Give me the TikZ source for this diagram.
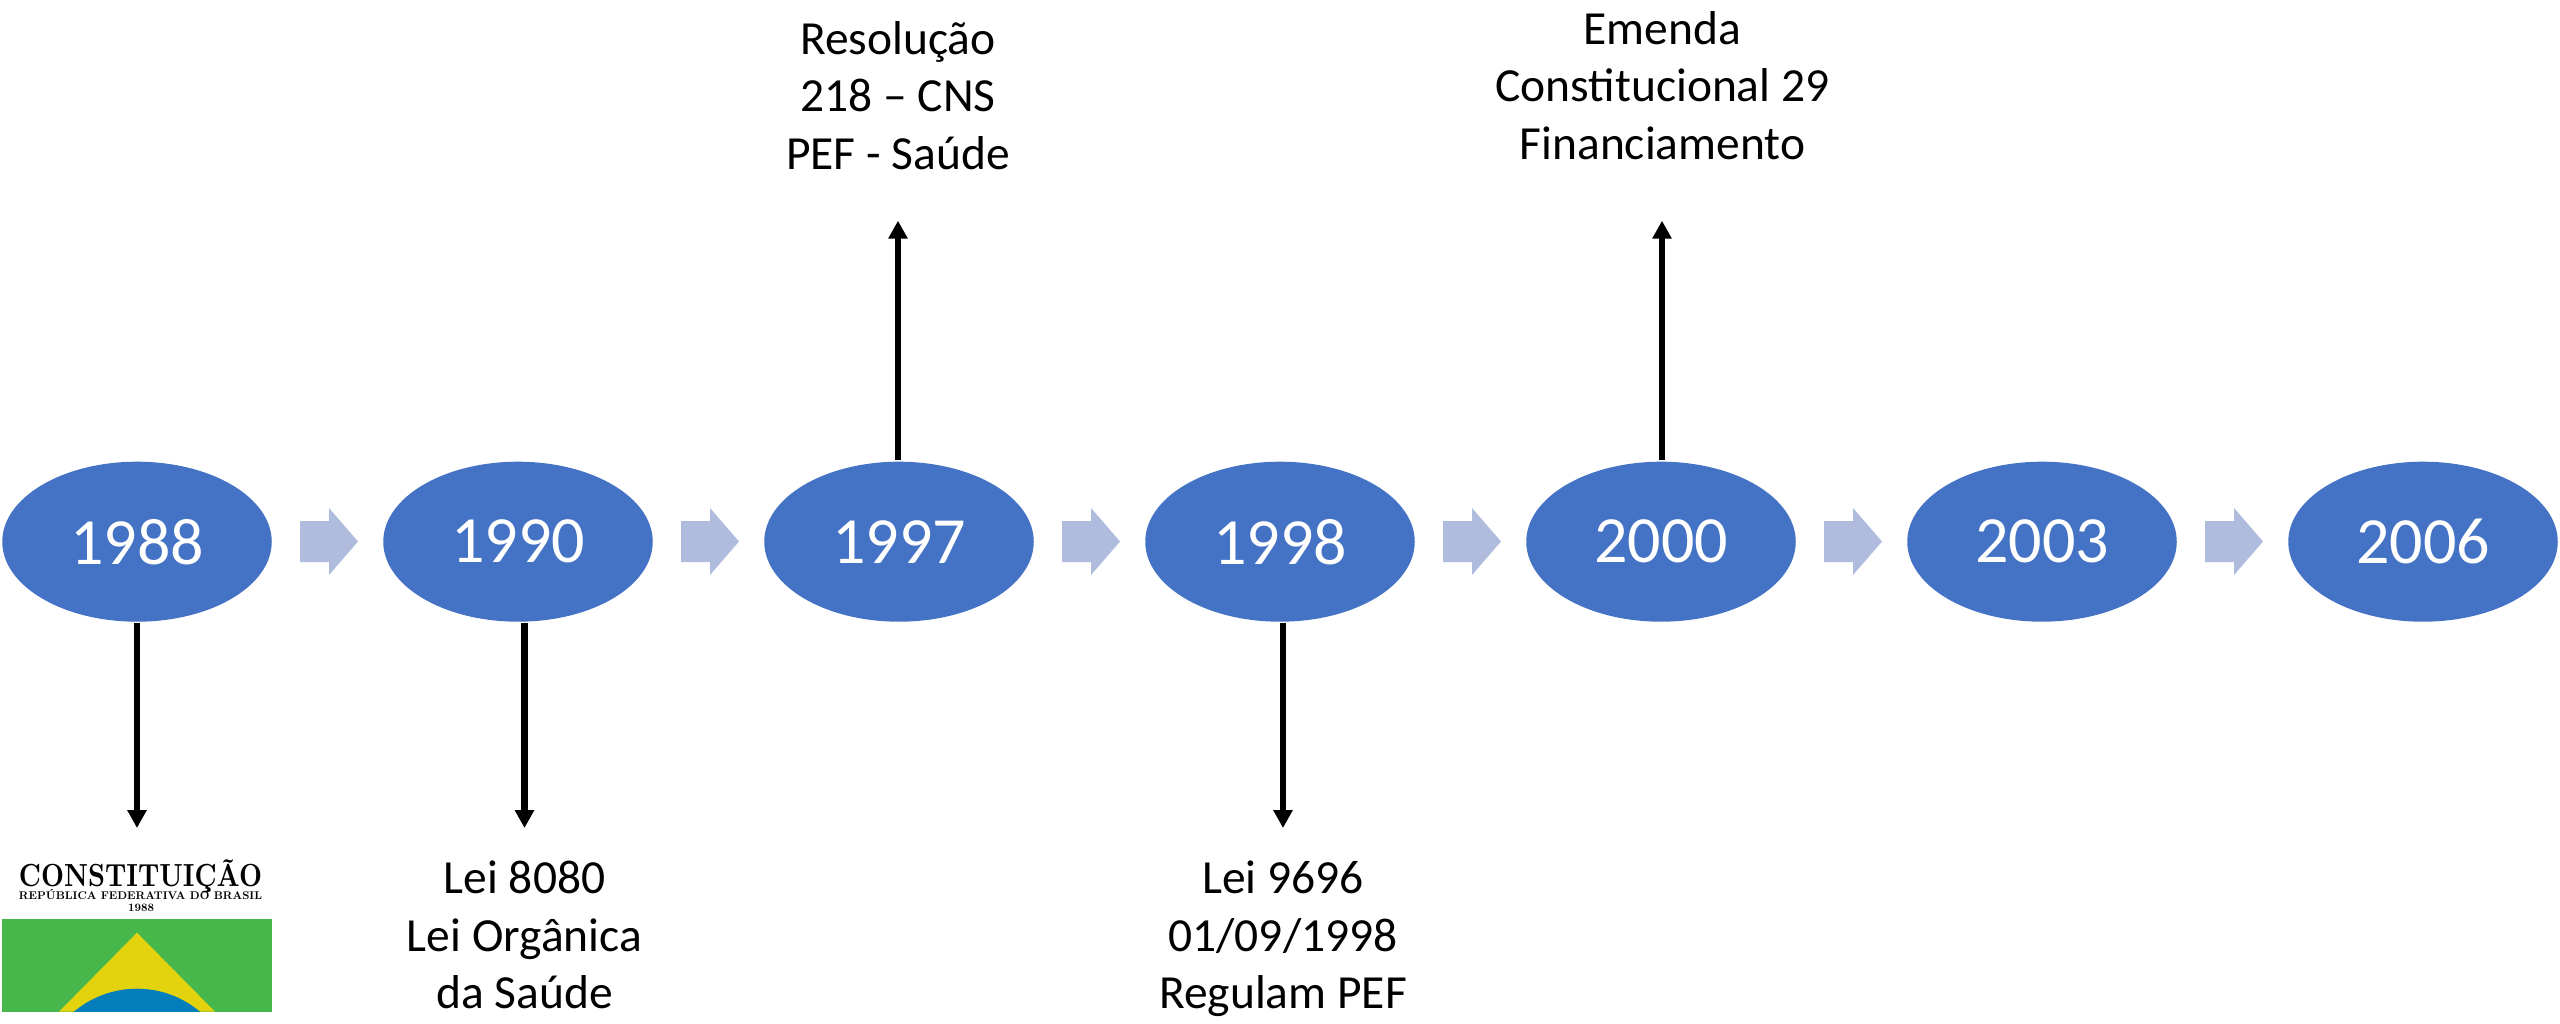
\documentclass[tikz,border=0pt]{standalone}
\usepackage{fontspec}
\usepackage{graphicx}
\newfontfamily\carl{Carlito}
\usetikzlibrary{arrows.meta,shapes.geometric}
\definecolor{ovalblue}{HTML}{4472C4}
\definecolor{chev}{HTML}{B0BCDE}
\definecolor{flaggreen}{HTML}{47B74B}
\definecolor{flagyellow}{HTML}{E3D30F}
\definecolor{flagblue}{HTML}{047DBB}
\tikzset{
  yearnode/.style={ellipse,fill=ovalblue,text=white,minimum width=269.5pt,minimum height=160pt,inner sep=0pt,font=\carl\fontsize{66}{66}\selectfont},
  lbl/.style={align=center,text=black,inner sep=0pt,anchor=north,font=\carl\fontsize{47.5}{57.5}\selectfont},
  conn/.style={draw=black,line width=6.5pt,-{Triangle[length=18pt,width=18.5pt]}},
  blockarrow/.style={fill=chev,draw=none},
  captxt/.style={inner sep=0pt,anchor=base}
}
\newcommand{\blockarr}[1]{\fill[blockarrow] (#1,521) -- ++(29,0) -- ++(0,-13) -- ++(29,33.5) -- ++(-29,33.5) -- ++(0,-13) -- ++(-29,0) -- cycle;}
\begin{document}
\begin{tikzpicture}[x=1pt,y=-1pt]
\useasboundingbox (0,0) rectangle (2560,1024);
\fill[white] (0,0) rectangle (2560,1024);
\node[yearnode] (a) at (137,541.7) {1988};
\node[yearnode] (b) at (518,541.7) {1990};
\node[yearnode] (c) at (899,541.7) {1997};
\node[yearnode] (d) at (1280,541.7) {1998};
\node[yearnode] (e) at (1661,541.7) {2000};
\node[yearnode] (f) at (2042,541.7) {2003};
\node[yearnode] (g) at (2423,541.7) {2006};
\blockarr{300}\blockarr{681}\blockarr{1062}\blockarr{1443}\blockarr{1824}\blockarr{2205}
\fill[flaggreen] (2,919) rectangle (272,1011.7);
\begin{scope}
\clip (2,919) rectangle (272,1011.7);
\fill[flagyellow] (137,932.7) -- (215,1011.7) -- (59,1011.7) -- cycle;
\fill[flagblue] (137,1086.5) circle (97.8pt);
\end{scope}
\node[captxt] (t1) at (140.5,886) {\resizebox{243pt}{!}{\scalebox{1}[1.2]{\bfseries CONSTITUIÇÃO}}};
\node[captxt] (t2) at (140.5,899) {\resizebox{243pt}{!}{\bfseries REPÚBLICA FEDERATIVA DO BRASIL}};
\node[captxt] (t3) at (141,911.7) {\resizebox{26pt}{!}{\bfseries 1988}};
\coordinate (ca) at (137,828);
\coordinate (cb) at (524.5,828);
\coordinate (cd) at (1283,828);
\coordinate (cc) at (898,220.7);
\coordinate (ce) at (1662,220.7);
\node[lbl] (lb) at (524.5,861) {Lei 8080\\Lei Orgânica\\da Saúde};
\node[lbl] (ld) at (1283,861) {Lei 9696\\01/09/1998\\Regulam PEF};
\node[lbl] (lc) at (898,21) {Resolução\\218 – CNS\\PEF - Saúde};
\node[lbl] (le) at (1662.5,11) {Emenda\\Constitucional 29\\Financiamento};
\draw[conn] ([yshift=-1pt]ca |- a.south) -- (ca);
\draw[conn] ([yshift=-1pt]cb |- b.south) -- (cb);
\draw[conn] ([yshift=-1pt]cd |- d.south) -- (cd);
\draw[conn] ([yshift=2pt]cc |- c.north) -- (cc);
\draw[conn] ([yshift=2pt]ce |- e.north) -- (ce);
\end{tikzpicture}
\end{document}
